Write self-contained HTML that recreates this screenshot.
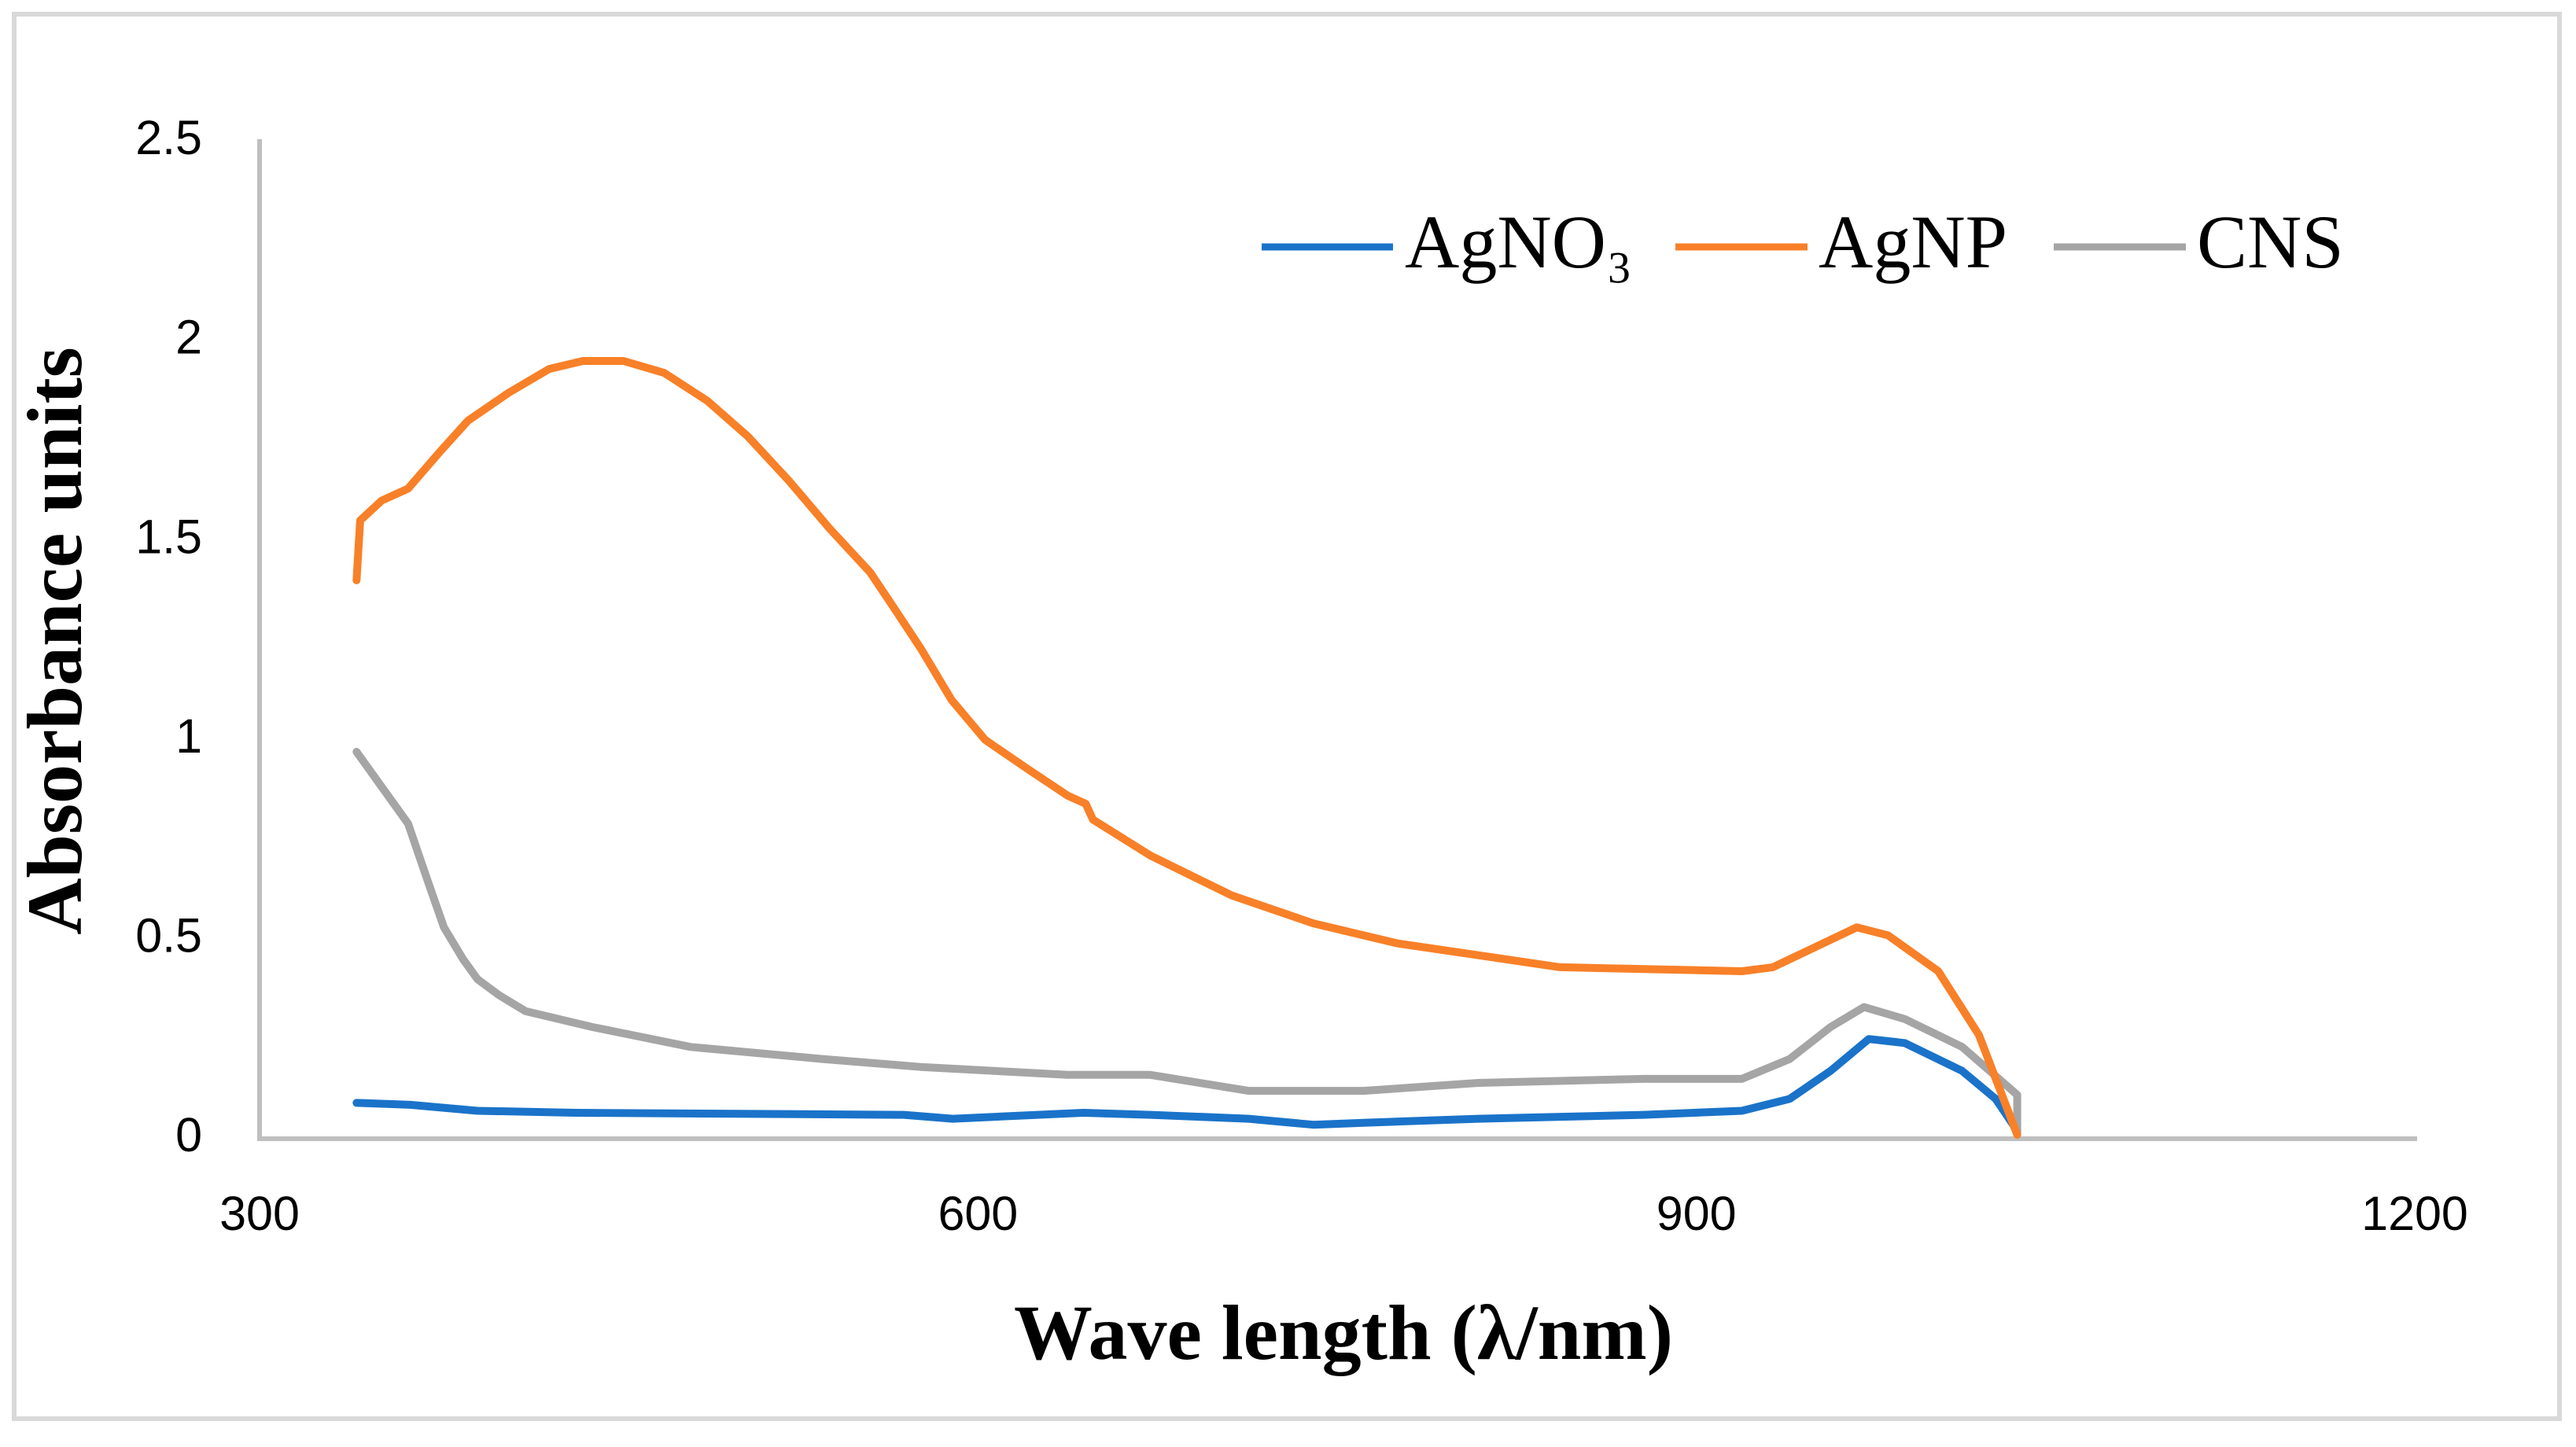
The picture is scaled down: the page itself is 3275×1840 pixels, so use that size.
<!DOCTYPE html>
<html><head><meta charset="utf-8"><style>
html,body{margin:0;padding:0;background:#fff;}
svg{display:block;}
</style></head><body>
<svg id="chart" width="3275" height="1840" viewBox="0 0 3275 1840" xmlns="http://www.w3.org/2000/svg">
<rect x="18" y="18" width="3236" height="1786" fill="#fff" stroke="#d9d9d9" stroke-width="6"/>
<g id="axes"></g>
<g id="series"></g>
<text x="80" y="815" transform="rotate(-90 80 815)" text-anchor="middle" dominant-baseline="middle" font-family="Liberation Serif, serif" font-weight="bold" font-size="100" fill="#000">Absorbance units</text>
<text x="1708" y="1705" text-anchor="middle" dominant-baseline="middle" font-family="Liberation Serif, serif" font-weight="bold" font-size="100" fill="#000">Wave length (λ/nm)</text>
<g font-family="Liberation Serif, serif" font-size="96" fill="#000">
<line x1="1604" y1="314" x2="1771" y2="314" stroke="#1a73c9" stroke-width="9"/>
<text x="1786" y="318" dominant-baseline="middle">AgNO₃</text>
<line x1="2130" y1="314" x2="2298" y2="314" stroke="#f88028" stroke-width="9"/>
<text x="2312" y="318" dominant-baseline="middle">AgNP</text>
<line x1="2611" y1="314" x2="2779" y2="314" stroke="#a5a5a5" stroke-width="9"/>
<text x="2793" y="318" dominant-baseline="middle">CNS</text>
</g>
</svg>
<script>
const xTicks = [300, 600, 900, 1200];
const yTicks = [0, 0.5, 1, 1.5, 2, 2.5];
const yTickLabels = ["0", "0.5", "1", "1.5", "2", "2.5"];
const agnpX = [340.5,342,351,362,375,387,404,421,435,452,469,487,504,521,538,555,565,576,589,603,620,637.5,645,648,672,706,740,775,809,843,919,932,946,967,980,1001,1018,1034];
const agnpY = [1.40,1.55,1.60,1.63,1.72,1.80,1.87,1.93,1.95,1.95,1.92,1.85,1.76,1.65,1.53,1.42,1.33,1.23,1.10,1.00,0.93,0.86,0.84,0.80,0.71,0.61,0.54,0.49,0.46,0.43,0.42,0.43,0.47,0.53,0.51,0.42,0.26,0.01];
const cnsX = [340.5,362,370,377,385,391,400,411,439,480,535,576,637.5,672,713,761,809,878,919,939,956,970,987,1011,1034,1034];
const cnsY = [0.97,0.79,0.65,0.53,0.45,0.40,0.36,0.32,0.28,0.23,0.20,0.18,0.16,0.16,0.12,0.12,0.14,0.15,0.15,0.20,0.28,0.33,0.30,0.23,0.11,0.01];
const agno3X = [340.5,363,391,432,569,589.5,644,672,713,740,761,809,878,919,939,956,972,987,1011,1025,1034];
const agno3Y = [0.09,0.085,0.07,0.065,0.06,0.05,0.065,0.06,0.05,0.035,0.04,0.05,0.06,0.07,0.10,0.17,0.25,0.24,0.17,0.10,0.02];

const NS = "http://www.w3.org/2000/svg";
const L = 330, R = 3070, T = 180, B = 1448;
function sx(v){ return L + (v - 300) / 900 * (R - L); }
function sy(v){ return B - v / 2.5 * (B - T); }

const axes = document.getElementById('axes');
const ya = document.createElementNS(NS, 'line');
ya.setAttribute('x1', L); ya.setAttribute('x2', L); ya.setAttribute('y1', T - 3); ya.setAttribute('y2', B);
ya.setAttribute('stroke', '#bfbfbf'); ya.setAttribute('stroke-width', '6');


axes.appendChild(ya);
const xa = document.createElementNS(NS, 'line');
xa.setAttribute('x1', L - 3); xa.setAttribute('x2', R + 3); xa.setAttribute('y1', B); xa.setAttribute('y2', B);
xa.setAttribute('stroke', '#bfbfbf'); xa.setAttribute('stroke-width', '6');


axes.appendChild(xa);

yTicks.forEach((v, i) => {
  const t = document.createElementNS(NS, 'text');
  t.setAttribute('x', 257); t.setAttribute('y', sy(v));
  t.setAttribute('text-anchor', 'end'); t.setAttribute('dominant-baseline', 'middle');
  t.setAttribute('font-family', 'Liberation Sans, sans-serif'); t.setAttribute('font-size', '61');
  t.textContent = yTickLabels[i];
  
  
  axes.appendChild(t);
});
xTicks.forEach(v => {
  const t = document.createElementNS(NS, 'text');
  t.setAttribute('x', sx(v)); t.setAttribute('y', 1548);
  t.setAttribute('text-anchor', 'middle'); t.setAttribute('dominant-baseline', 'middle');
  t.setAttribute('font-family', 'Liberation Sans, sans-serif'); t.setAttribute('font-size', '61');
  t.textContent = String(v);
  
  
  axes.appendChild(t);
});

const series = document.getElementById('series');
function drawLine(xs, ys, color, name){
  const p = document.createElementNS(NS, 'path');
  let d = '';
  xs.forEach((x, i) => { d += (i ? 'L' : 'M') + sx(x).toFixed(1) + ' ' + sy(ys[i]).toFixed(1) + ' '; });
  p.setAttribute('d', d);
  p.setAttribute('fill', 'none'); p.setAttribute('stroke', color);
  p.setAttribute('stroke-width', '10'); p.setAttribute('stroke-linejoin', 'round'); p.setAttribute('stroke-linecap', 'round');
  
  
  series.appendChild(p);
}
drawLine(agno3X, agno3Y, '#1a73c9', 'agno3-line');
drawLine(cnsX, cnsY, '#a5a5a5', 'cns-line');
drawLine(agnpX, agnpY, '#f88028', 'agnp-line');
</script>
</body></html>
